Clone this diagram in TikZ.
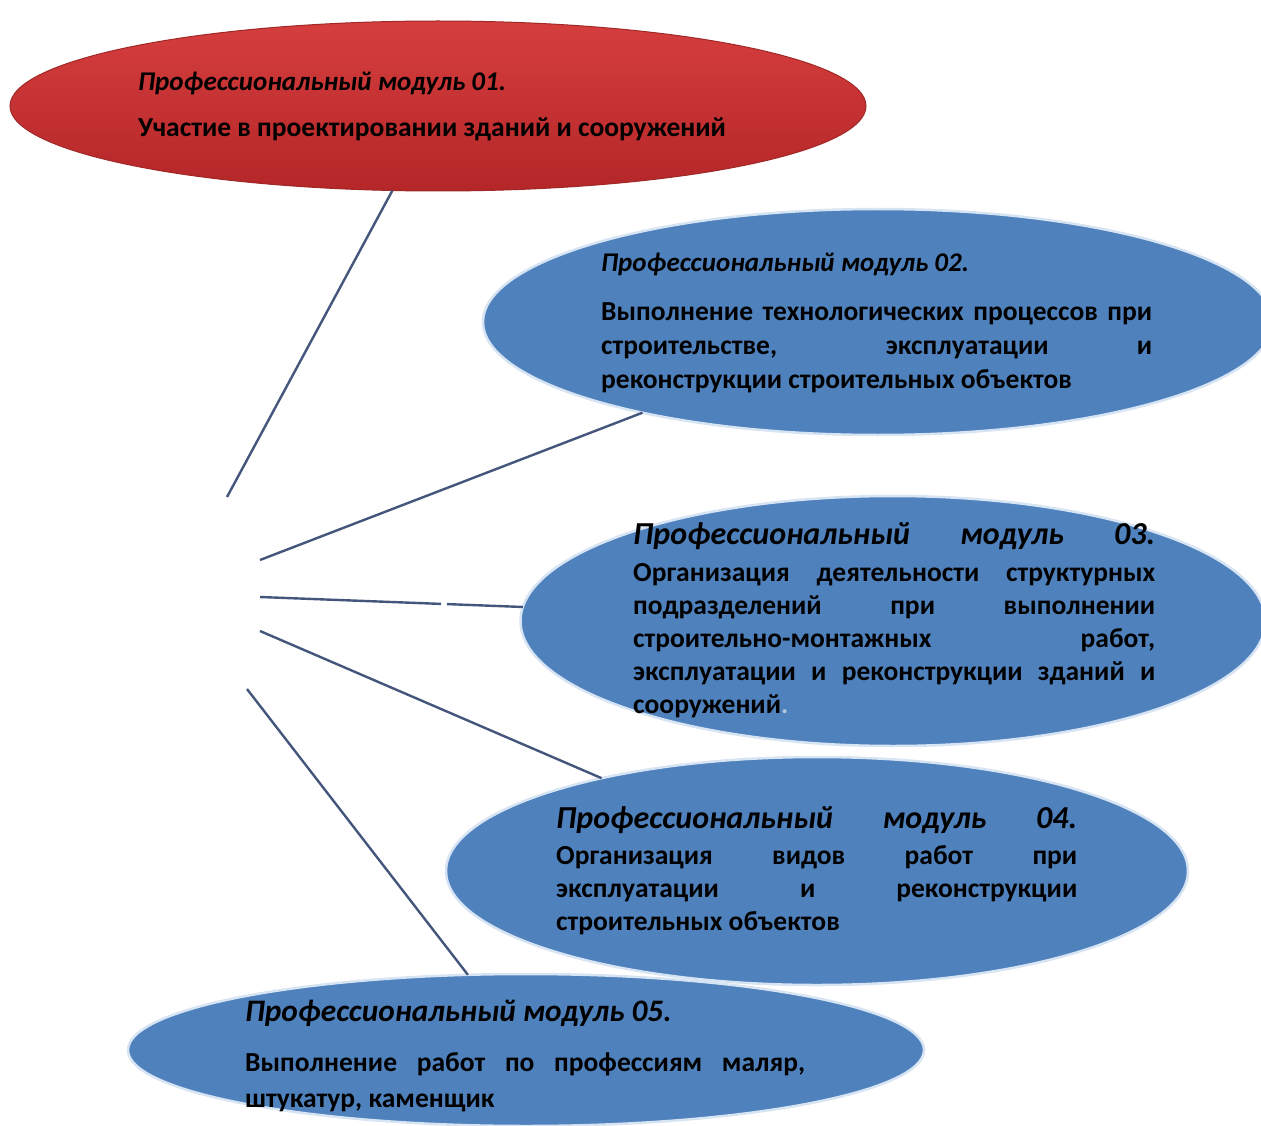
\documentclass[tikz,border=0pt]{standalone}
\usepackage{fontspec}
\setmainfont{Carlito}
\usetikzlibrary{shapes.geometric}
\definecolor{modblue}{RGB}{79,129,189}
\definecolor{modredtop}{RGB}{214,62,62}
\definecolor{modredbot}{RGB}{180,38,40}
\definecolor{redrim}{RGB}{160,40,40}
\definecolor{linkc}{RGB}{68,86,124}
\definecolor{rimblue}{RGB}{215,228,243}
\newcommand\jline[1]{\hbox to\hsize{\spaceskip=0.22em plus 1fil\xspaceskip=\spaceskip #1}}
\newcommand\nline[1]{\hbox{#1}}
\begin{document}
\begin{tikzpicture}[x=1pt,y=-1pt,
  modell/.style={ellipse, inner sep=0pt, outer sep=0pt},
  blueell/.style={modell, fill=modblue, draw=rimblue, line width=2.5pt},
  redell/.style={modell, top color=modredtop, bottom color=modredbot, draw=redrim, line width=1pt},
  ttlS/.style={anchor=base west, inner sep=0pt, font=\bfseries\itshape\fontsize{27pt}{33pt}\selectfont},
  ttlL/.style={anchor=base west, inner sep=0pt, font=\bfseries\itshape\fontsize{32pt}{38pt}\selectfont},
  bdy/.style={anchor=base west, inner sep=0pt, font=\bfseries\fontsize{27.5pt}{34pt}\selectfont},
  link/.style={draw=linkc, line width=2.4pt}
]
\useasboundingbox (0,0) rectangle (1261,1126);
\clip (0,0) rectangle (1261,1126);
\fill[white] (0,0) rectangle (1261,1126);

% ellipses
\node[redell, minimum width=856pt, minimum height=170pt] (e1) at (438,106) {};
\node[blueell, minimum width=790pt, minimum height=226pt] (e2) at (878,322) {};
\node[blueell, minimum width=745pt, minimum height=250pt] (e3) at (893,621) {};
\node[blueell, minimum width=742pt, minimum height=228pt] (e4) at (817,871) {};
\node[blueell, minimum width=796pt, minimum height=152pt] (e5) at (526,1050) {};

% hub ends
\coordinate (h1) at (227,497);
\coordinate (h2) at (260,560);
\coordinate (h3) at (260,597);
\coordinate (h4) at (260,631);
\coordinate (h5) at (247,689);
\coordinate (g3a) at (441,603.9);
\coordinate (g3b) at (447,604.1);

\draw[link] (h1) -- (e1);
\draw[link] (h2) -- (e2);
\draw[link] (h3) -- (g3a);
\draw[link] (g3b) -- (e3);
\draw[link] (h4) -- (e4);
\draw[link] (h5) -- (e5);

% texts
\node[ttlS] (t1) at (138,91) {Профессиональный модуль 01.};
\node[bdy] (b1) at (138,137) {Участие в проектировании зданий и сооружений};

\node[ttlS] (t2) at (601,271) {Профессиональный модуль 02.};
\node[bdy] (b2) at (601,320) {\vtop{\hsize=551pt\baselineskip=34pt
  \jline{Выполнение технологических процессов при}
  \jline{строительстве, эксплуатации и}
  \nline{реконструкции строительных объектов}}};

\node[ttlL] (t3) at (633,544) {\hbox to 522pt{\spaceskip=0.22em plus 1fil Профессиональный модуль 03.}};
\node[bdy] (b3) at (633,581) {\vtop{\hsize=522pt\baselineskip=33pt
  \jline{Организация деятельности структурных}
  \jline{подразделений при выполнении}
  \jline{строительно-монтажных работ,}
  \jline{эксплуатации и реконструкции зданий и}
  \nline{сооружений{\color{white!55!modblue}.}}}};

\node[ttlL] (t4) at (556,828) {\hbox to 521pt{\spaceskip=0.22em plus 1fil Профессиональный модуль 04.}};
\node[bdy] (b4) at (556,864) {\vtop{\hsize=521pt\baselineskip=33pt
  \jline{Организация видов работ при}
  \jline{эксплуатации и реконструкции}
  \nline{строительных объектов}}};

\node[ttlL, font=\bfseries\itshape\fontsize{31.3pt}{38pt}\selectfont] (t5) at (245,1021) {Профессиональный модуль 05.};
\node[bdy] (b5) at (245,1071) {\vtop{\hsize=560pt\baselineskip=36pt
  \jline{Выполнение работ по профессиям маляр,}
  \nline{штукатур, каменщик}}};
\end{tikzpicture}
\end{document}
